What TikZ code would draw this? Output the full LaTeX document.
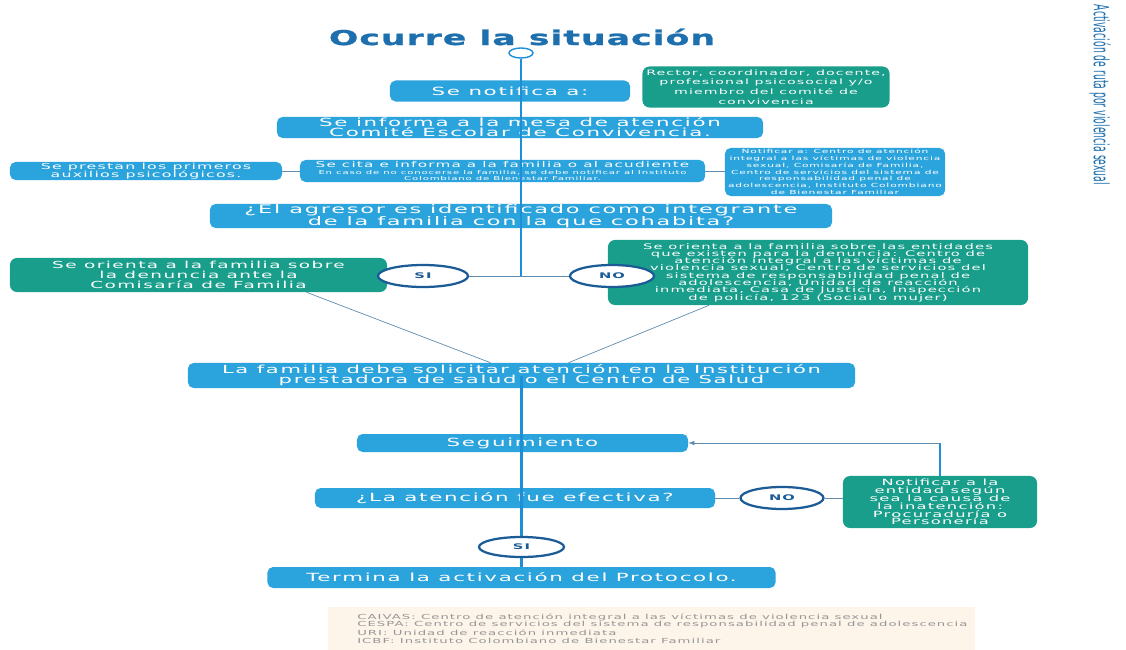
\documentclass[tikz,border=0pt]{standalone}
\usepackage{fontspec}
\setmainfont{DejaVu Sans}
\newfontfamily\cajafont[FakeStretch=1.9,LetterSpace=15]{DejaVu Sans}
\newfontfamily\titulofont[FakeStretch=1.7,LetterSpace=5,FakeBold=1.2]{DejaVu Sans}
\usepackage{tikz}
\usetikzlibrary{calc,arrows,positioning,shapes.geometric}
\definecolor{azulcaja}{RGB}{43,163,220}
\definecolor{verdecaja}{RGB}{24,158,138}
\definecolor{azullinea}{RGB}{30,143,214}
\definecolor{azultitulo}{RGB}{29,111,174}
\definecolor{azulanillo}{RGB}{28,92,150}
\definecolor{grislinea}{RGB}{95,140,175}
\definecolor{fondonota}{RGB}{253,244,234}
\definecolor{grisnota}{RGB}{150,150,150}
\newcommand{\tletra}[2]{\fontsize{#1}{#2}\selectfont\lineskiplimit=-5pt\relax}
\pgfdeclarelayer{cajas}\pgfdeclarelayer{frente}
\pgfsetlayers{cajas,main,frente}

\begin{document}
\begin{tikzpicture}[x=0.025cm,y=-0.025cm]

\tikzset{bluebox/.style={fill=azulcaja,text=white,rounded corners=4pt,inner sep=0pt,align=center},
greenbox/.style={fill=verdecaja,text=white,rounded corners=5pt,inner sep=0pt,align=center},
ring/.style={ellipse,fill=white,draw=azulanillo,line width=1.6pt,inner sep=0pt,text=azulanillo,font=\cajafont\bfseries\tletra{5.5}{6}},
mainline/.style={azullinea,line width=2pt},
thinline/.style={grislinea,line width=0.5pt},
nota/.style={anchor=west,inner sep=0pt,text=grisnota,font=\cajafont\tletra{4.95}{5}}}

\useasboundingbox (0,0) rectangle (1126,650);

% Title
\node[font=\titulofont\bfseries\tletra{14.5}{15},text=azultitulo] (titulo) at (522,37) {Ocurre la situación};
\node[ellipse,draw=azullinea,fill=white,line width=1pt,minimum width=0.6cm,minimum height=0.25cm,inner sep=0pt] (inicio) at (521,53) {};

% Side label
\node[rotate=-90,text=azultitulo] (ruta) at (1100,95) {\resizebox{4.5cm}{0.42cm}{Activación de ruta por violencia sexual}};

% Boxes
\begin{pgfonlayer}{cajas}
\node[bluebox,minimum width=6cm,minimum height=0.525cm,font=\cajafont\tletra{8}{7.2}] (notifica) at (510,91) {Se notifica a:};
\node[greenbox,minimum width=6.175cm,minimum height=1.025cm,font=\cajafont\tletra{5.3}{7}] (rector) at (766,87) {Rector, coordinador, docente,\\ profesional psicosocial y/o\\ miembro del comité de\\ convivencia};
\node[bluebox,minimum width=12.15cm,minimum height=0.525cm,font=\cajafont\tletra{8}{7.2}] (mesa) at (520,127.5) {Se informa a la mesa de atención\\ Comité Escolar de Convivencia.};
\node[bluebox,minimum width=6.8cm,minimum height=0.45cm,font=\cajafont\tletra{5.9}{5.7}] (auxilios) at (146,171) {Se prestan los primeros\\ auxilios psicológicos.};
\node[bluebox,minimum width=10.125cm,minimum height=0.55cm,font=\cajafont\tletra{3.8}{4.4}] (cita) at (502.5,171) {\tletra{5.7}{6}Se cita e informa a la familia o al acudiente\\ En caso de no conocerse la familia, se debe notificar al Instituto\\ Colombiano de Bienestar Familiar.};
\node[bluebox,minimum width=5.5cm,minimum height=1.2cm,font=\cajafont\tletra{4}{4.8}] (notificar) at (835,172) {Notificar a: Centro de atención\\ integral a las víctimas de violencia\\ sexual, Comisaría de Familia,\\ Centro de servicios del sistema de\\ responsabilidad penal de\\ adolescencia, Instituto Colombiano\\ de Bienestar Familiar};
\node[bluebox,minimum width=15.55cm,minimum height=0.6cm,font=\cajafont\tletra{8.4}{8.5}] (agresor) at (521,216) {¿El agresor es identificado como integrante\\ de la familia con la que cohabita?};
\node[greenbox,minimum width=9.425cm,minimum height=0.85cm,font=\cajafont\tletra{6.9}{7}] (denuncia) at (198.5,275) {Se orienta a la familia sobre\\ la denuncia ante la\\ Comisaría de Familia};
\node[greenbox,minimum width=10.5cm,minimum height=1.625cm,font=\cajafont\tletra{5.5}{5.2}] (entidades) at (818,272.5) {Se orienta a la familia sobre las entidades\\ que existen para la denuncia: Centro de\\ atención integral a las víctimas de\\ violencia sexual, Centro de servicios del\\ sistema de responsabilidad penal de\\ adolescencia, Unidad de reacción\\ inmediata, Casa de Justicia, Inspección\\ de policía, 123 (Social o mujer)};
\node[bluebox,minimum width=16.675cm,minimum height=0.625cm,font=\cajafont\tletra{7.9}{7.2}] (familia) at (521.5,375.5) {La familia debe solicitar atención en la Institución\\ prestadora de salud o el Centro de Salud};
\node[bluebox,minimum width=8.275cm,minimum height=0.45cm,font=\cajafont\tletra{8}{8}] (seguimiento) at (522.5,443) {Seguimiento};
\node[bluebox,minimum width=10cm,minimum height=0.5cm,font=\cajafont\tletra{8}{7.2}] (efectiva) at (515,498) {¿La atención fue efectiva?};
\node[greenbox,minimum width=4.85cm,minimum height=1.3cm,font=\cajafont\tletra{6.1}{5.6}] (inatencion) at (940,502) {Notificar a la\\ entidad según\\ sea la causa de\\ la inatención:\\ Procuraduría o\\ Personería};
\node[bluebox,minimum width=12.7cm,minimum height=0.525cm,font=\cajafont\tletra{8}{7.2}] (termina) at (521.5,577.5) {Termina la activación del Protocolo.};
% Notes
\fill[fondonota] (328,607) rectangle (975,650);
\end{pgfonlayer}

\foreach \t [count=\i] in {{CAIVAS: Centro de atención integral a las víctimas de violencia sexual},{CESPA: Centro de servicios del sistema de responsabilidad penal de adolescencia},{URI: Unidad de reacción inmediata},{ICBF: Instituto Colombiano de Bienestar Familiar}}
  \node[nota] (nota\i) at (357,609+8*\i) {\t};

% Yes / no rings
\begin{pgfonlayer}{frente}
\node[ring,minimum width=2.25cm,minimum height=0.55cm] (si1) at (423,276) {SI};
\node[ring,minimum width=2.1cm,minimum height=0.55cm] (no1) at (612,276) {NO};
\node[ring,minimum width=2.075cm,minimum height=0.55cm] (no2) at (782,498) {NO};
\node[ring,minimum width=2.125cm,minimum height=0.5cm] (si2) at (521.5,547) {SI};
\end{pgfonlayer}

% Main line
\coordinate (cruce) at (521,276);
\draw[mainline] (inicio.south) -- (cruce);
\draw[thinline] (si1) -- (no1);
\draw[mainline] (familia.center) -- (familia.center |- termina.north);

% Side connectors
\draw[thinline] (auxilios.east) -- (cita.west);
\draw[thinline] (cita.east) -- (cita.east -| notificar.west);
\draw[thinline] ($(denuncia.south)+(108,0)$) -- ($(familia.north)+(-31,0)$);
\draw[thinline] ($(entidades.south)+(-109,0)$) -- ($(familia.north)+(47,0)$);
\draw[thinline] (efectiva.east) -- (no2.west);
\draw[thinline] (no2.east) -- (no2.east -| inatencion.west);

% Back to follow-up
\coordinate (giro) at (inatencion.north |- seguimiento.east);
\draw[mainline] (inatencion.north) -- (giro);
\draw[thinline,-latex] (giro) -- (seguimiento.east);

\end{tikzpicture}
\end{document}
